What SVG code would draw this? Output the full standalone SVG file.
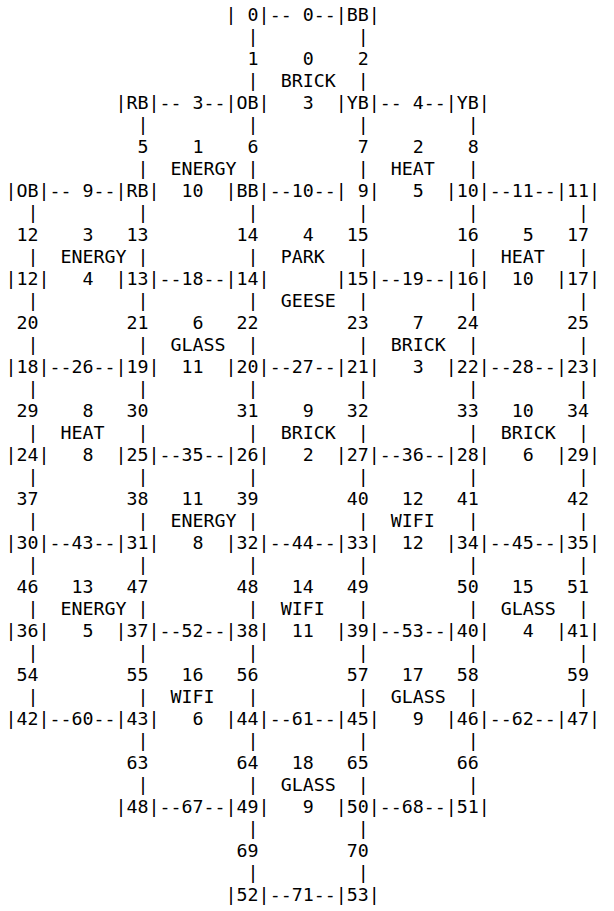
<svg xmlns="http://www.w3.org/2000/svg" width="614" height="911" viewBox="0 0 614 911" xml:space="preserve">
<style>
text{font-family:"DejaVu Sans Mono","Liberation Mono",monospace;font-size:18.3px;fill:#000;white-space:pre}
.e{text-anchor:end}
</style>
<rect width="614" height="911" fill="#fff"/>
<g id="nodes">
<g id="n-r0-c20"><text x="225.6" y="20.5">| 0|</text></g>
<g id="n-r0-c30"><text x="335.7" y="20.5">|BB|</text></g>
<g id="n-r4-c10"><text x="115.5" y="108.5">|RB|</text></g>
<g id="n-r4-c20"><text x="225.6" y="108.5">|OB|</text></g>
<g id="n-r4-c30"><text x="335.7" y="108.5">|YB|</text></g>
<g id="n-r4-c40"><text x="445.8" y="108.5">|YB|</text></g>
<g id="n-r8-c0"><text x="5.4" y="196.5">|OB|</text></g>
<g id="n-r8-c10"><text x="115.5" y="196.5">|RB|</text></g>
<g id="n-r8-c20"><text x="225.6" y="196.5">|BB|</text></g>
<g id="n-r8-c30"><text x="335.7" y="196.5">| 9|</text></g>
<g id="n-r8-c40"><text x="445.8" y="196.5">|10|</text></g>
<g id="n-r8-c50"><text x="555.9" y="196.5">|11|</text></g>
<g id="n-12"><text x="5.4" y="284.5">|12|</text></g>
<g id="n-13"><text x="115.5" y="284.5">|13|</text></g>
<g id="n-14"><text x="225.6" y="284.5">|14|</text></g>
<g id="n-15"><text x="335.7" y="284.5">|15|</text></g>
<g id="n-16"><text x="445.8" y="284.5">|16|</text></g>
<g id="n-17"><text x="555.9" y="284.5">|17|</text></g>
<g id="n-18"><text x="5.4" y="372.5">|18|</text></g>
<g id="n-19"><text x="115.5" y="372.5">|19|</text></g>
<g id="n-20"><text x="225.6" y="372.5">|20|</text></g>
<g id="n-21"><text x="335.7" y="372.5">|21|</text></g>
<g id="n-22"><text x="445.8" y="372.5">|22|</text></g>
<g id="n-23"><text x="555.9" y="372.5">|23|</text></g>
<g id="n-24"><text x="5.4" y="460.5">|24|</text></g>
<g id="n-25"><text x="115.5" y="460.5">|25|</text></g>
<g id="n-26"><text x="225.6" y="460.5">|26|</text></g>
<g id="n-27"><text x="335.7" y="460.5">|27|</text></g>
<g id="n-28"><text x="445.8" y="460.5">|28|</text></g>
<g id="n-29"><text x="555.9" y="460.5">|29|</text></g>
<g id="n-30"><text x="5.4" y="548.5">|30|</text></g>
<g id="n-31"><text x="115.5" y="548.5">|31|</text></g>
<g id="n-32"><text x="225.6" y="548.5">|32|</text></g>
<g id="n-33"><text x="335.7" y="548.5">|33|</text></g>
<g id="n-34"><text x="445.8" y="548.5">|34|</text></g>
<g id="n-35"><text x="555.9" y="548.5">|35|</text></g>
<g id="n-36"><text x="5.4" y="636.5">|36|</text></g>
<g id="n-37"><text x="115.5" y="636.5">|37|</text></g>
<g id="n-38"><text x="225.6" y="636.5">|38|</text></g>
<g id="n-39"><text x="335.7" y="636.5">|39|</text></g>
<g id="n-40"><text x="445.8" y="636.5">|40|</text></g>
<g id="n-41"><text x="555.9" y="636.5">|41|</text></g>
<g id="n-42"><text x="5.4" y="724.5">|42|</text></g>
<g id="n-43"><text x="115.5" y="724.5">|43|</text></g>
<g id="n-44"><text x="225.6" y="724.5">|44|</text></g>
<g id="n-45"><text x="335.7" y="724.5">|45|</text></g>
<g id="n-46"><text x="445.8" y="724.5">|46|</text></g>
<g id="n-47"><text x="555.9" y="724.5">|47|</text></g>
<g id="n-48"><text x="115.5" y="812.5">|48|</text></g>
<g id="n-49"><text x="225.6" y="812.5">|49|</text></g>
<g id="n-50"><text x="335.7" y="812.5">|50|</text></g>
<g id="n-51"><text x="445.8" y="812.5">|51|</text></g>
<g id="n-52"><text x="225.6" y="900.5">|52|</text></g>
<g id="n-53"><text x="335.7" y="900.5">|53|</text></g>
</g>
<g id="connectors">
<text x="269.64" y="20.5">-- 0--</text>
<text x="159.54" y="108.5">-- 3--</text>
<text x="379.74" y="108.5">-- 4--</text>
<text x="49.44" y="196.5">-- 9--</text>
<text x="269.64" y="196.5">--10--</text>
<text x="489.84" y="196.5">--11--</text>
<text x="159.54" y="284.5">--18--</text>
<text x="379.74" y="284.5">--19--</text>
<text x="49.44" y="372.5">--26--</text>
<text x="269.64" y="372.5">--27--</text>
<text x="489.84" y="372.5">--28--</text>
<text x="159.54" y="460.5">--35--</text>
<text x="379.74" y="460.5">--36--</text>
<text x="49.44" y="548.5">--43--</text>
<text x="269.64" y="548.5">--44--</text>
<text x="489.84" y="548.5">--45--</text>
<text x="159.54" y="636.5">--52--</text>
<text x="379.74" y="636.5">--53--</text>
<text x="49.44" y="724.5">--60--</text>
<text x="269.64" y="724.5">--61--</text>
<text x="489.84" y="724.5">--62--</text>
<text x="159.54" y="812.5">--67--</text>
<text x="379.74" y="812.5">--68--</text>
<text x="269.64" y="900.5">--71--</text>
<text x="247.62" y="42.5">|</text><text x="357.72" y="42.5">|</text>
<text class="e" x="258.63" y="64.5">1</text><text class="e" x="368.73" y="64.5">2</text>
<text x="247.62" y="86.5">|</text><text x="357.72" y="86.5">|</text>
<text x="137.52" y="130.5">|</text><text x="247.62" y="130.5">|</text><text x="357.72" y="130.5">|</text><text x="467.82" y="130.5">|</text>
<text class="e" x="148.53" y="152.5">5</text><text class="e" x="258.63" y="152.5">6</text><text class="e" x="368.73" y="152.5">7</text><text class="e" x="478.83" y="152.5">8</text>
<text x="137.52" y="174.5">|</text><text x="247.62" y="174.5">|</text><text x="357.72" y="174.5">|</text><text x="467.82" y="174.5">|</text>
<text x="27.42" y="218.5">|</text><text x="137.52" y="218.5">|</text><text x="247.62" y="218.5">|</text><text x="357.72" y="218.5">|</text><text x="467.82" y="218.5">|</text><text x="577.92" y="218.5">|</text>
<text class="e" x="38.43" y="240.5">12</text><text class="e" x="148.53" y="240.5">13</text><text class="e" x="258.63" y="240.5">14</text><text class="e" x="368.73" y="240.5">15</text><text class="e" x="478.83" y="240.5">16</text><text class="e" x="588.93" y="240.5">17</text>
<text x="27.42" y="262.5">|</text><text x="137.52" y="262.5">|</text><text x="247.62" y="262.5">|</text><text x="357.72" y="262.5">|</text><text x="467.82" y="262.5">|</text><text x="577.92" y="262.5">|</text>
<text x="27.42" y="306.5">|</text><text x="137.52" y="306.5">|</text><text x="247.62" y="306.5">|</text><text x="357.72" y="306.5">|</text><text x="467.82" y="306.5">|</text><text x="577.92" y="306.5">|</text>
<text class="e" x="38.43" y="328.5">20</text><text class="e" x="148.53" y="328.5">21</text><text class="e" x="258.63" y="328.5">22</text><text class="e" x="368.73" y="328.5">23</text><text class="e" x="478.83" y="328.5">24</text><text class="e" x="588.93" y="328.5">25</text>
<text x="27.42" y="350.5">|</text><text x="137.52" y="350.5">|</text><text x="247.62" y="350.5">|</text><text x="357.72" y="350.5">|</text><text x="467.82" y="350.5">|</text><text x="577.92" y="350.5">|</text>
<text x="27.42" y="394.5">|</text><text x="137.52" y="394.5">|</text><text x="247.62" y="394.5">|</text><text x="357.72" y="394.5">|</text><text x="467.82" y="394.5">|</text><text x="577.92" y="394.5">|</text>
<text class="e" x="38.43" y="416.5">29</text><text class="e" x="148.53" y="416.5">30</text><text class="e" x="258.63" y="416.5">31</text><text class="e" x="368.73" y="416.5">32</text><text class="e" x="478.83" y="416.5">33</text><text class="e" x="588.93" y="416.5">34</text>
<text x="27.42" y="438.5">|</text><text x="137.52" y="438.5">|</text><text x="247.62" y="438.5">|</text><text x="357.72" y="438.5">|</text><text x="467.82" y="438.5">|</text><text x="577.92" y="438.5">|</text>
<text x="27.42" y="482.5">|</text><text x="137.52" y="482.5">|</text><text x="247.62" y="482.5">|</text><text x="357.72" y="482.5">|</text><text x="467.82" y="482.5">|</text><text x="577.92" y="482.5">|</text>
<text class="e" x="38.43" y="504.5">37</text><text class="e" x="148.53" y="504.5">38</text><text class="e" x="258.63" y="504.5">39</text><text class="e" x="368.73" y="504.5">40</text><text class="e" x="478.83" y="504.5">41</text><text class="e" x="588.93" y="504.5">42</text>
<text x="27.42" y="526.5">|</text><text x="137.52" y="526.5">|</text><text x="247.62" y="526.5">|</text><text x="357.72" y="526.5">|</text><text x="467.82" y="526.5">|</text><text x="577.92" y="526.5">|</text>
<text x="27.42" y="570.5">|</text><text x="137.52" y="570.5">|</text><text x="247.62" y="570.5">|</text><text x="357.72" y="570.5">|</text><text x="467.82" y="570.5">|</text><text x="577.92" y="570.5">|</text>
<text class="e" x="38.43" y="592.5">46</text><text class="e" x="148.53" y="592.5">47</text><text class="e" x="258.63" y="592.5">48</text><text class="e" x="368.73" y="592.5">49</text><text class="e" x="478.83" y="592.5">50</text><text class="e" x="588.93" y="592.5">51</text>
<text x="27.42" y="614.5">|</text><text x="137.52" y="614.5">|</text><text x="247.62" y="614.5">|</text><text x="357.72" y="614.5">|</text><text x="467.82" y="614.5">|</text><text x="577.92" y="614.5">|</text>
<text x="27.42" y="658.5">|</text><text x="137.52" y="658.5">|</text><text x="247.62" y="658.5">|</text><text x="357.72" y="658.5">|</text><text x="467.82" y="658.5">|</text><text x="577.92" y="658.5">|</text>
<text class="e" x="38.43" y="680.5">54</text><text class="e" x="148.53" y="680.5">55</text><text class="e" x="258.63" y="680.5">56</text><text class="e" x="368.73" y="680.5">57</text><text class="e" x="478.83" y="680.5">58</text><text class="e" x="588.93" y="680.5">59</text>
<text x="27.42" y="702.5">|</text><text x="137.52" y="702.5">|</text><text x="247.62" y="702.5">|</text><text x="357.72" y="702.5">|</text><text x="467.82" y="702.5">|</text><text x="577.92" y="702.5">|</text>
<text x="137.52" y="746.5">|</text><text x="247.62" y="746.5">|</text><text x="357.72" y="746.5">|</text><text x="467.82" y="746.5">|</text>
<text class="e" x="148.53" y="768.5">63</text><text class="e" x="258.63" y="768.5">64</text><text class="e" x="368.73" y="768.5">65</text><text class="e" x="478.83" y="768.5">66</text>
<text x="137.52" y="790.5">|</text><text x="247.62" y="790.5">|</text><text x="357.72" y="790.5">|</text><text x="467.82" y="790.5">|</text>
<text x="247.62" y="834.5">|</text><text x="357.72" y="834.5">|</text>
<text class="e" x="258.63" y="856.5">69</text><text class="e" x="368.73" y="856.5">70</text>
<text x="247.62" y="878.5">|</text><text x="357.72" y="878.5">|</text>
</g>
<g id="cells">
<g id="cell-0"><text class="e" x="313.68" y="64.5">0</text><text x="280.65" y="86.5">BRICK</text><text class="e" x="313.68" y="108.5">3</text></g>
<g id="cell-1"><text class="e" x="203.58" y="152.5">1</text><text x="170.55" y="174.5">ENERGY</text><text class="e" x="203.58" y="196.5">10</text></g>
<g id="cell-2"><text class="e" x="423.78" y="152.5">2</text><text x="390.75" y="174.5">HEAT</text><text class="e" x="423.78" y="196.5">5</text></g>
<g id="cell-3"><text class="e" x="93.48" y="240.5">3</text><text x="60.45" y="262.5">ENERGY</text><text class="e" x="93.48" y="284.5">4</text></g>
<g id="cell-4"><text class="e" x="313.68" y="240.5">4</text><text x="280.65" y="262.5">PARK</text><text x="280.65" y="306.5">GEESE</text></g>
<g id="cell-5"><text class="e" x="533.88" y="240.5">5</text><text x="500.85" y="262.5">HEAT</text><text class="e" x="533.88" y="284.5">10</text></g>
<g id="cell-6"><text class="e" x="203.58" y="328.5">6</text><text x="170.55" y="350.5">GLASS</text><text class="e" x="203.58" y="372.5">11</text></g>
<g id="cell-7"><text class="e" x="423.78" y="328.5">7</text><text x="390.75" y="350.5">BRICK</text><text class="e" x="423.78" y="372.5">3</text></g>
<g id="cell-8"><text class="e" x="93.48" y="416.5">8</text><text x="60.45" y="438.5">HEAT</text><text class="e" x="93.48" y="460.5">8</text></g>
<g id="cell-9"><text class="e" x="313.68" y="416.5">9</text><text x="280.65" y="438.5">BRICK</text><text class="e" x="313.68" y="460.5">2</text></g>
<g id="cell-10"><text class="e" x="533.88" y="416.5">10</text><text x="500.85" y="438.5">BRICK</text><text class="e" x="533.88" y="460.5">6</text></g>
<g id="cell-11"><text class="e" x="203.58" y="504.5">11</text><text x="170.55" y="526.5">ENERGY</text><text class="e" x="203.58" y="548.5">8</text></g>
<g id="cell-12"><text class="e" x="423.78" y="504.5">12</text><text x="390.75" y="526.5">WIFI</text><text class="e" x="423.78" y="548.5">12</text></g>
<g id="cell-13"><text class="e" x="93.48" y="592.5">13</text><text x="60.45" y="614.5">ENERGY</text><text class="e" x="93.48" y="636.5">5</text></g>
<g id="cell-14"><text class="e" x="313.68" y="592.5">14</text><text x="280.65" y="614.5">WIFI</text><text class="e" x="313.68" y="636.5">11</text></g>
<g id="cell-15"><text class="e" x="533.88" y="592.5">15</text><text x="500.85" y="614.5">GLASS</text><text class="e" x="533.88" y="636.5">4</text></g>
<g id="cell-16"><text class="e" x="203.58" y="680.5">16</text><text x="170.55" y="702.5">WIFI</text><text class="e" x="203.58" y="724.5">6</text></g>
<g id="cell-17"><text class="e" x="423.78" y="680.5">17</text><text x="390.75" y="702.5">GLASS</text><text class="e" x="423.78" y="724.5">9</text></g>
<g id="cell-18"><text class="e" x="313.68" y="768.5">18</text><text x="280.65" y="790.5">GLASS</text><text class="e" x="313.68" y="812.5">9</text></g>
</g>
</svg>
